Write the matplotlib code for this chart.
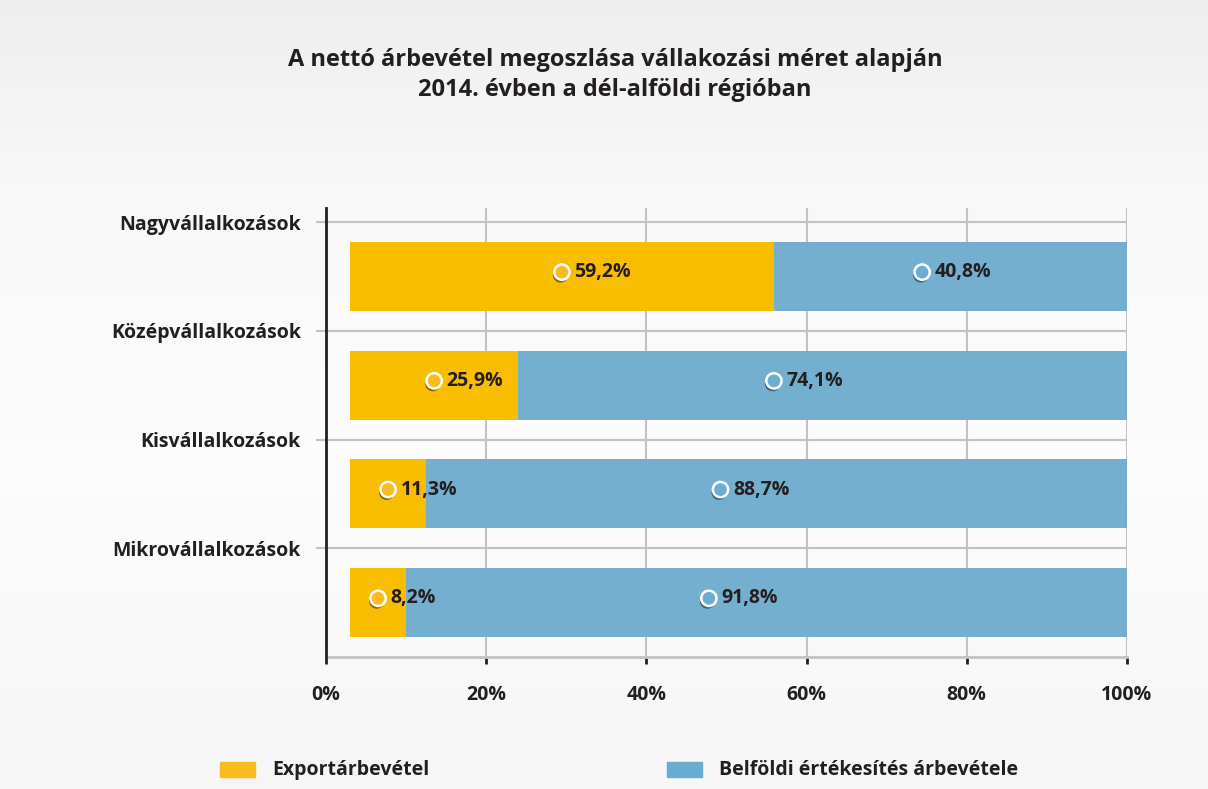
import matplotlib.pyplot as plt
import matplotlib.patheffects as pe
from matplotlib.patches import Rectangle
import numpy as np

# Adatok (felülről lefelé, ahogy a képen)
kategoriak = ['Nagyvállalkozások', 'Középvállalkozások', 'Kisvállalkozások', 'Mikrovállalkozások']
export_cimke = ['59,2%', '25,9%', '11,3%', '8,2%']
belfold_cimke = ['40,8%', '74,1%', '88,7%', '91,8%']
# a sávok a képen így vannak megrajzolva (tengely %-ban)
sav_kezdet = [3.0, 3.0, 3.0, 3.0]
sav_hatar = [55.9, 24.0, 12.5, 10.0]
sav_veg = [100.0, 100.0, 100.0, 100.0]
x_ticks = [0, 20, 40, 60, 80, 100]
x_cimkek = ['0%', '20%', '40%', '60%', '80%', '100%']
jelmagyarazat = ['Exportárbevétel', 'Belföldi értékesítés árbevétele']

SARGA = '#F9BD00'
KEK = '#75AFCF'
SZOVEG = '#231F20'
RACS = '#C2C2C6'

plt.rcParams['font.family'] = ['Open Sans', 'DejaVu Sans']

fig = plt.figure(figsize=(12.08, 7.89), dpi=100)

# halvány szürke átmenetes háttér
bg = fig.add_axes([0, 0, 1, 1], zorder=-10)
grad = np.interp(np.linspace(0, 1, 200), [0, 0.25, 0.6, 1], [0.935, 0.975, 0.99, 0.965])
bg.imshow(grad[:, None, None] * np.ones((1, 1, 3)), aspect='auto', extent=[0, 1, 0, 1])
bg.set_axis_off()

ax = fig.add_axes([326 / 1208, 1 - 657 / 789, (1127 - 326) / 1208, (657 - 208) / 789])
ax.set_facecolor('none')

n = len(kategoriak)
y = np.arange(n)[::-1] + 0.5  # Nagy felül

kezdet = np.array(sav_kezdet)
hatar = np.array(sav_hatar)
veg = np.array(sav_veg)

ax.barh(y, hatar - kezdet, left=kezdet, height=0.635, color=SARGA, zorder=3)
ax.barh(y, veg - hatar, left=hatar, height=0.635, color=KEK, zorder=3)

arnyek = [pe.SimplePatchShadow(offset=(-1, -2), shadow_rgbFace='black', alpha=0.45), pe.Normal()]

def cimke(x, yy, szoveg, szin):
    ax.plot(x, yy, 'o', ms=11, mfc=szin, mec='white', mew=1.8, zorder=5, path_effects=arnyek)
    ax.annotate(szoveg, (x, yy), xytext=(9, 0), textcoords='offset points', ha='left', va='center',
                fontsize=14, fontweight='bold', color=SZOVEG, zorder=6)

for i in range(n):
    xs = kezdet[i] + (hatar[i] - kezdet[i]) * 0.5
    cimke(xs, y[i] + 0.04, export_cimke[i], '#FBB924')
    xb = hatar[i] + (veg[i] - hatar[i]) * 0.42
    cimke(xb, y[i] + 0.04, belfold_cimke[i], '#6CAED1')

ax.set_xlim(0, 100)
ax.set_ylim(0, 4.13)

ax.set_xticks(x_ticks)
ax.set_xticklabels(x_cimkek, fontsize=14, fontweight='bold', color=SZOVEG)
ax.tick_params(axis='x', length=5, width=2, color=SZOVEG, pad=15)

ax.set_yticks(np.arange(1, n + 1))
ax.set_yticklabels(kategoriak[::-1], fontsize=14, fontweight='bold', color=SZOVEG)
ax.tick_params(axis='y', length=7, width=1.5, color=RACS, pad=11)

ax.grid(True, color=RACS, linewidth=1.5, zorder=1)
ax.set_axisbelow(True)

for s in ['top', 'right']:
    ax.spines[s].set_visible(False)
ax.spines['left'].set_color(SZOVEG)
ax.spines['left'].set_linewidth(2)
ax.spines['left'].set_zorder(4)
ax.spines['bottom'].set_color(RACS)
ax.spines['bottom'].set_linewidth(2)

fig.text(0.509, 1 - 75 / 789, 'A nettó árbevétel megoszlása vállakozási méret alapján\n2014. évben a dél-alföldi régióban',
         ha='center', va='center', fontsize=17, fontweight='bold', color=SZOVEG, linespacing=1.38)

# jelmagyarázat
for x0, szin, szoveg in [(220, '#FBBA1E', jelmagyarazat[0]), (667, '#68ADD0', jelmagyarazat[1])]:
    fig.patches.append(Rectangle((x0 / 1208, 1 - 777 / 789), 35 / 1208, 15 / 789,
                                 transform=fig.transFigure, color=szin))
    fig.text((x0 + 52) / 1208, 1 - 770 / 789, szoveg, ha='left', va='center',
             fontsize=14, fontweight='bold', color=SZOVEG)

fig.savefig('out.png', dpi=100)
